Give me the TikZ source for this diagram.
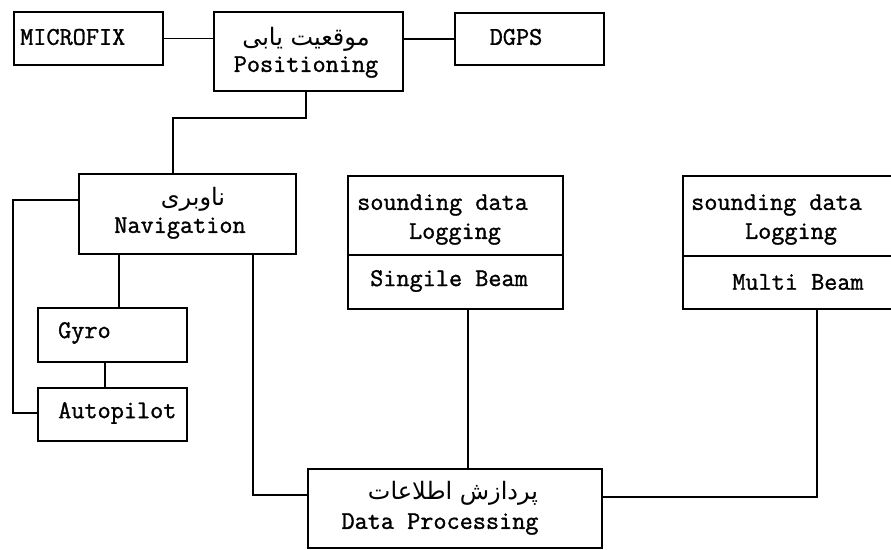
\documentclass[tikz,border=0pt]{standalone}
\usepackage{fontspec}
\newfontfamily\cour[FakeBold=1.2]{Latin Modern Mono}
\newfontfamily\fa[Script=Arabic]{DejaVu Sans}
\TeXXeTstate=1
\begin{document}
\begin{tikzpicture}[x=1pt,y=-1pt,
  box/.style={draw, line width=1.8pt, inner sep=0pt, anchor=north west},
  wire/.style={line width=1.8pt},
  lbl/.style={inner sep=0pt, font=\fontsize{25.5}{30}\selectfont\cour},
  falbl/.style={inner sep=0pt, font=\fontsize{24}{28}\selectfont\fa}]
\useasboundingbox (0,0) rectangle (891,549);

% boxes (north-west corner, width, height)
\node[box, minimum width=149pt, minimum height=53pt] (micro) at (13,11) {};
\node[box, minimum width=189pt, minimum height=79pt] (pos) at (213,11) {};
\node[box, minimum width=149pt, minimum height=52pt] (dgps) at (454,12) {};
\node[box, minimum width=217pt, minimum height=80pt] (nav) at (78,173) {};
\node[box, minimum width=149pt, minimum height=54pt] (gyro) at (37,307) {};
\node[box, minimum width=149pt, minimum height=53pt] (auto) at (37,387) {};
\node[box, minimum width=215pt, minimum height=79pt] (sbtop) at (347,175) {};
\node[box, minimum width=215pt, minimum height=54pt] (sbbot) at (347,254) {};
\node[box, minimum width=230pt, minimum height=80pt] (mbtop) at (682,175) {};
\node[box, minimum width=230pt, minimum height=53pt] (mbbot) at (682,255) {};
\node[box, minimum width=294pt, minimum height=79pt] (dp) at (307,468) {};

% texts
\node[lbl, anchor=west] (tmicro) at (20,37) {MICROFIX};
\node[falbl] (tposfa) at (306,39) {\beginR موقعیت یابی\endR};
\node[lbl] (tpos) at (306,67) {Positioning};
\node[lbl] (tdgps) at (516,37) {DGPS};
\node[falbl] (tnavfa) at (193,199) {\beginR ناوبری\endR};
\node[lbl] (tnav) at (180,228) {Navigation};
\node[lbl, anchor=west] (tgyro) at (58,333) {Gyro};
\node[lbl, anchor=west] (tauto) at (58,413) {Autopilot};
\node[lbl, anchor=west] (tsb1) at (357,205) {sounding data};
\node[lbl] (tsb2) at (455,234) {Logging};
\node[lbl] (tsb3) at (449,281) {Singile Beam};
\node[lbl, anchor=west] (tmb1) at (691,205) {sounding data};
\node[lbl] (tmb2) at (791,234) {Logging};
\node[lbl] (tmb3) at (798,282) {Multi Beam};
\node[falbl] (tdpfa) at (453,493) {\beginR پردازش اطلاعات\endR};
\node[lbl] (tdp) at (440,524) {Data Processing};

% connectors
\draw[wire] (micro.east) -- (pos.west |- micro.east);
\draw[wire] (pos.east |- dgps.west) -- (dgps.west);
\draw[wire] (pos.south -| 306,0) -- (306,118) -| (nav.north -| 173,0);
\draw[wire] (nav.west |- 0,200) -| (13,413) -- (auto.west |- 0,413);
\draw[wire] (nav.south -| 119,0) -- (gyro.north -| 119,0);
\draw[wire] (gyro.south -| 105,0) -- (auto.north -| 105,0);
\draw[wire] (nav.south -| 253,0) |- (dp.west |- 0,495);
\draw[wire] (sbbot.south -| 468,0) -- (dp.north -| 468,0);
\draw[wire] (mbbot.south -| 817,0) |- (dp.east |- 0,497);
\end{tikzpicture}
\end{document}
